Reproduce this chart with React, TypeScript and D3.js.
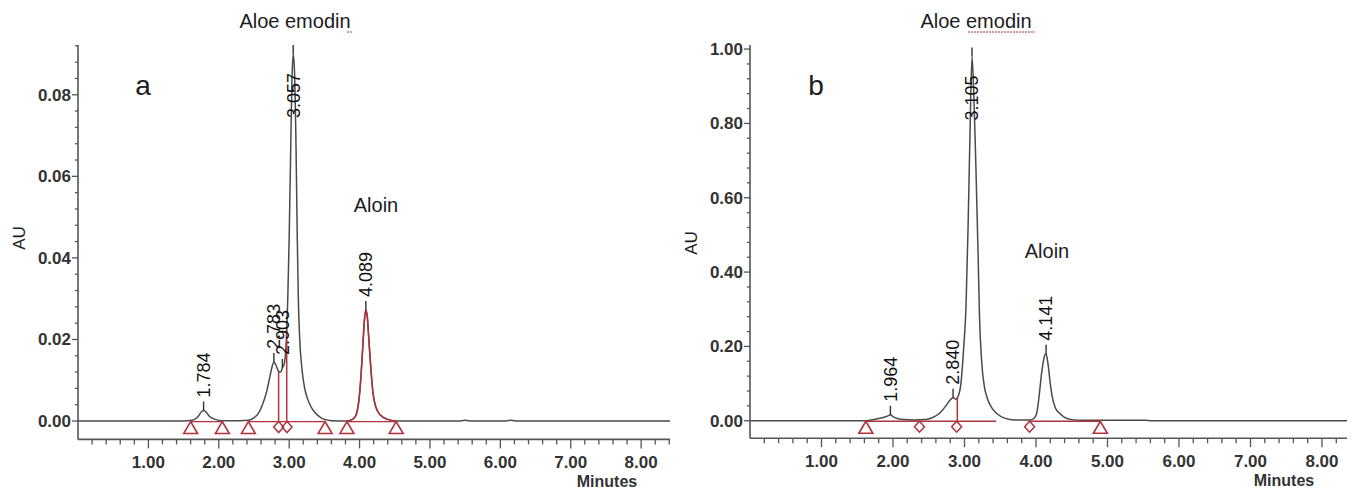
import React from "react";
import * as d3 from "d3";

// ---------- data ----------
const xTickValues = [1, 2, 3, 4, 5, 6, 7, 8];
const xTickLabels = ["1.00", "2.00", "3.00", "4.00", "5.00", "6.00", "7.00", "8.00"];

const yTicksA = [0, 0.02, 0.04, 0.06, 0.08];
const yTickLabelsA = ["0.00", "0.02", "0.04", "0.06", "0.08"];
const yTicksB = [0, 0.2, 0.4, 0.6, 0.8, 1.0];
const yTickLabelsB = ["0.00", "0.20", "0.40", "0.60", "0.80", "1.00"];

// chromatogram a: [minutes, AU]
const traceA: [number, number][] = [
  [0, 0], [1.5, 0], [1.62, 0.0002], [1.7, 0.001], [1.76, 0.0024], [1.784, 0.0026], [1.82, 0.0022],
  [1.87, 0.0011], [1.95, 0.0004], [2.05, 0.0001], [2.3, 0.0001], [2.42, 0.0002], [2.5, 0.0008],
  [2.56, 0.0018], [2.62, 0.004], [2.68, 0.0072], [2.73, 0.0112], [2.76, 0.0135], [2.783, 0.0145],
  [2.81, 0.0138], [2.85, 0.0122], [2.88, 0.012], [2.903, 0.013], [2.93, 0.014], [2.96, 0.02],
  [2.98, 0.03], [3.0, 0.045], [3.02, 0.065], [3.04, 0.084], [3.057, 0.09], [3.075, 0.086],
  [3.095, 0.07], [3.115, 0.045], [3.13, 0.03], [3.15, 0.02], [3.18, 0.013], [3.22, 0.008],
  [3.26, 0.0055], [3.31, 0.0035], [3.36, 0.0022], [3.42, 0.0012], [3.5, 0.0004], [3.6, 0.0001],
  [3.82, 0], [3.9, 0.0004], [3.95, 0.0015], [3.99, 0.005], [4.02, 0.011], [4.05, 0.0195],
  [4.07, 0.025], [4.089, 0.0272], [4.11, 0.0255], [4.13, 0.0205], [4.16, 0.013], [4.19, 0.007],
  [4.23, 0.0035], [4.3, 0.0014], [4.4, 0.0004], [4.52, 0], [5.4, 0], [5.5, 0.0002], [5.6, 0],
  [6.05, 0], [6.15, 0.0002], [6.25, 0], [8.41, 0],
];
const peaksA = [1.784, 2.783, 2.903, 3.057, 4.089];
const redPeakRangeA: [number, number] = [3.82, 4.52];
const baselineSegA: [number, number][] = [[1.6, 2.05], [2.42, 3.51], [3.82, 4.52]];
const dropLinesA = [2.85, 2.965];
const trianglesA = [1.6, 2.05, 2.42, 3.51, 3.82, 4.52];
const diamondsA = [2.85, 2.97];

// chromatogram b: [minutes, AU]
const traceB: [number, number][] = [
  [0, 0], [1.55, 0], [1.62, 0.0], [1.75, 0.004], [1.85, 0.008], [1.93, 0.013], [1.964, 0.016],
  [2.0, 0.011], [2.06, 0.006], [2.15, 0.003], [2.3, 0.002], [2.45, 0.003], [2.55, 0.008],
  [2.65, 0.02], [2.74, 0.04], [2.8, 0.056], [2.84, 0.062], [2.88, 0.058], [2.91, 0.065],
  [2.95, 0.1], [2.99, 0.2], [3.02, 0.3], [3.05, 0.52], [3.08, 0.8], [3.105, 0.98], [3.13, 0.88],
  [3.16, 0.68], [3.19, 0.45], [3.21, 0.28], [3.24, 0.16], [3.28, 0.09], [3.32, 0.06],
  [3.38, 0.035], [3.46, 0.018], [3.56, 0.007], [3.7, 0.002], [3.92, 0.002], [3.97, 0.006],
  [4.01, 0.02], [4.04, 0.06], [4.08, 0.13], [4.12, 0.175], [4.141, 0.18], [4.17, 0.15],
  [4.2, 0.1], [4.23, 0.062], [4.27, 0.035], [4.33, 0.02], [4.4, 0.009], [4.5, 0.003],
  [4.65, 0.001], [5.55, 0.001], [5.6, 0], [8.35, 0],
];
const peaksB = [1.964, 2.84, 3.105, 4.141];
const baselineSegB: [number, number][] = [[1.62, 3.44], [3.91, 4.9]];
const dropLinesB = [2.9];
const trianglesB = [1.62, 4.9];
const diamondsB = [2.37, 2.89, 3.91];

// ---------- styling / layout ----------
const RED = "#b0323a";
const TRACE = "#4a4a4a";
const AXIS = "#555";
const TEXT = "#1c1c1c";
const FONT = "'Liberation Sans', Arial, sans-serif";
const NARROW = "'Liberation Sans Narrow', 'Liberation Sans', Arial, sans-serif";

type PanelProps = {
  letter: string;
  x0: number; x1: number; xMax: number;
  yDomain: [number, number]; yTop: number; yBottom: number;
  yTicks: number[]; yTickLabels: string[]; yMinorStep: number;
  trace: [number, number][];
  peaks: number[];
  redRange?: [number, number];
  baselineSeg: [number, number][];
  dropLines: number[];
  triangles: number[];
  diamonds: number[];
  titleX: number; letterX: number;
  aloinX: number; aloinY: number;
  auX: number; auY: number;
  minutesX: number;
  underline: [number, number];
};

function interp(trace: [number, number][], t: number): number {
  const i = d3.bisector((d: [number, number]) => d[0]).left(trace, t);
  if (i <= 0) return trace[0][1];
  if (i >= trace.length) return trace[trace.length - 1][1];
  const a = trace[i - 1], b = trace[i];
  return a[1] + ((b[1] - a[1]) * (t - a[0])) / (b[0] - a[0]);
}

function Panel(p: PanelProps) {
  const x = d3.scaleLinear().domain([0, p.xMax]).range([p.x0, p.x1]);
  const y = d3.scaleLinear().domain(p.yDomain).range([p.yBottom, p.yTop]);
  const line = d3.line<[number, number]>().x(d => x(d[0])).y(d => y(d[1])).curve(d3.curveMonotoneX);
  const y0 = y(0);

  const minorX = d3.range(0.2, p.xMax + 0.001, 0.2).filter(v => Math.abs(v - Math.round(v)) > 0.01);
  const minorY = d3.range(p.yMinorStep, p.yDomain[1], p.yMinorStep)
    .filter(v => !p.yTicks.some(t => Math.abs(t - v) < p.yMinorStep / 4));

  const labelFont = 18;
  const labelLen = (s: string) => s.length * 0.5 * labelFont;

  const redTrace = p.redRange ? p.trace.filter(d => d[0] >= p.redRange![0] && d[0] <= p.redRange![1]) : [];

  return (
    <g fontFamily={FONT}>
      {/* axes */}
      <line x1={p.x0} x2={p.x0} y1={p.yTop} y2={p.yBottom} stroke={AXIS} strokeWidth={1.6} />
      <line x1={p.x0} x2={p.x1} y1={p.yBottom} y2={p.yBottom} stroke={AXIS} strokeWidth={1.6} />
      {p.yTicks.map((t, i) => (
        <g key={"yt" + i}>
          <line x1={p.x0 - 6} x2={p.x0} y1={y(t)} y2={y(t)} stroke={AXIS} strokeWidth={1.3} />
          <text x={p.x0 - 7} y={y(t)} dy="0.35em" textAnchor="end" fontSize={17} fontWeight="bold" fontFamily={NARROW} fill="#333">{p.yTickLabels[i]}</text>
        </g>
      ))}
      {minorY.map((t, i) => (
        <line key={"ym" + i} x1={p.x0 - 3} x2={p.x0} y1={y(t)} y2={y(t)} stroke={AXIS} strokeWidth={1.3} />
      ))}
      {xTickValues.map((t, i) => (
        <g key={"xt" + i}>
          <line x1={x(t)} x2={x(t)} y1={p.yBottom} y2={p.yBottom + 9} stroke={AXIS} strokeWidth={1.3} />
          <text x={x(t)} y={p.yBottom + 29} textAnchor="middle" fontSize={17} fontWeight="bold" fontFamily={NARROW} fill="#333">{xTickLabels[i]}</text>
        </g>
      ))}
      {minorX.map((t, i) => (
        <line key={"xm" + i} x1={x(t)} x2={x(t)} y1={p.yBottom} y2={p.yBottom + 5} stroke={AXIS} strokeWidth={1.3} />
      ))}
      <text x={p.minutesX} y={p.yBottom + 48} textAnchor="middle" fontSize={16} fontWeight="bold" fontFamily={NARROW} fill="#333">Minutes</text>
      <text transform={`translate(${p.auX},${p.auY}) rotate(-90)`} textAnchor="middle" dy="0.35em" fontSize={17} fill={TEXT}>AU</text>

      {/* trace */}
      <path d={line(p.trace) || ""} fill="none" stroke={TRACE} strokeWidth={1.5} />
      {redTrace.length > 0 && <path d={line(redTrace) || ""} fill="none" stroke={RED} strokeWidth={1.5} />}

      {/* integration baselines */}
      {p.baselineSeg.map((s, i) => (
        <line key={"bs" + i} x1={x(s[0])} x2={x(s[1])} y1={y0 + 0.5} y2={y0 + 0.5} stroke={RED} strokeWidth={1.3} />
      ))}
      {p.dropLines.map((t, i) => (
        <line key={"dl" + i} x1={x(t)} x2={x(t)} y1={y0} y2={y(interp(p.trace, t))} stroke={RED} strokeWidth={1.5} />
      ))}
      {p.triangles.map((t, i) => {
        const cx = x(t), cy = y0 + 7;
        return <path key={"tr" + i} d={`M${cx - 7},${cy + 5.5} L${cx},${cy - 6.5} L${cx + 7},${cy + 5.5} Z`} fill="none" stroke={RED} strokeWidth={1.6} />;
      })}
      {p.diamonds.map((t, i) => {
        const cx = x(t), cy = y0 + 6;
        return <path key={"dm" + i} d={`M${cx},${cy - 5.5} L${cx + 5},${cy} L${cx},${cy + 5.5} L${cx - 5},${cy} Z`} fill="none" stroke={RED} strokeWidth={1.5} />;
      })}

      {/* peak apex ticks and labels */}
      {p.peaks.map((t, i) => {
        const label = t.toFixed(3);
        const ya = y(interp(p.trace, t));
        const len = labelLen(label);
        let bottom = ya - 13;
        if (bottom - len < p.yTop + 5) bottom = ya + 19 + len;
        const tickTop = ya - 9;
        return (
          <g key={"pk" + i}>
            <line x1={x(t)} x2={x(t)} y1={ya} y2={tickTop} stroke="#333" strokeWidth={1.4} />
            <text transform={`translate(${x(t)},${bottom}) rotate(-90)`} dy="0.35em" textAnchor="start" fontSize={labelFont} fill="#111">{label}</text>
          </g>
        );
      })}

      {/* annotations */}
      <text x={p.titleX} y={28} textAnchor="middle" fontSize={20} fill={TEXT}>Aloe emodin</text>
      <line x1={p.underline[0]} x2={p.underline[1]} y1={32} y2={32} stroke={RED} strokeWidth={1} strokeDasharray="2,1" />
      <text x={p.letterX} y={95} textAnchor="middle" fontSize={28} fill={TEXT}>{p.letter}</text>
      <text x={p.aloinX} y={p.aloinY} textAnchor="middle" fontSize={20} fill={TEXT}>Aloin</text>
    </g>
  );
}

export default function App() {
  return (
    <div style={{ position: "absolute", left: 0, top: 0 }}>
      <svg width={1357} height={495} style={{ display: "block", background: "#fff" }}>
        <Panel
          letter="a" x0={78} x1={670} xMax={8.41}
          yDomain={[-0.0045, 0.0922]} yTop={45} yBottom={439.4}
          yTicks={yTicksA} yTickLabels={yTickLabelsA} yMinorStep={0.004}
          trace={traceA} peaks={peaksA} redRange={redPeakRangeA}
          baselineSeg={baselineSegA} dropLines={dropLinesA}
          triangles={trianglesA} diamonds={diamondsA}
          titleX={295} letterX={143} aloinX={376} aloinY={212}
          auX={19} auY={238} minutesX={607} underline={[347, 353]}
        />
        <Panel
          letter="b" x0={750} x1={1347} xMax={8.35}
          yDomain={[-0.047, 1.011]} yTop={45} yBottom={438.2}
          yTicks={yTicksB} yTickLabels={yTickLabelsB} yMinorStep={0.04}
          trace={traceB} peaks={peaksB}
          baselineSeg={baselineSegB} dropLines={dropLinesB}
          triangles={trianglesB} diamonds={diamondsB}
          titleX={976} letterX={816} aloinX={1047} aloinY={258}
          auX={691} auY={243} minutesX={1284} underline={[968, 1035]}
        />
      </svg>
    </div>
  );
}
